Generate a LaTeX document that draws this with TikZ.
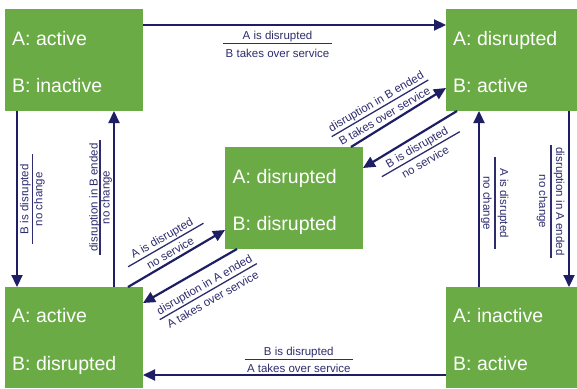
\documentclass[tikz,border=0pt]{standalone}
\usepackage{fontspec}
\setmainfont{Liberation Sans}
\usetikzlibrary{arrows.meta,calc}
\definecolor{boxgreen}{RGB}{106,171,69}
\definecolor{navy}{RGB}{30,30,100}
\definecolor{lblnavy}{RGB}{45,45,110}
\tikzset{
  statebox/.style={fill=boxgreen, draw=none, minimum width=138pt, minimum height=102pt, inner sep=0pt, outer sep=0pt},
  statetext/.style={text=white, font=\fontsize{19.5}{22}\selectfont, anchor=base west, inner sep=0pt},
  trans/.style={draw=navy, line width=2.2pt, -{Triangle[length=12pt,width=11pt]}},
  lbltext/.style={text=lblnavy, font=\fontsize{11.5}{13}\selectfont, anchor=base, inner sep=0pt, transform shape},
  lblrule/.style={draw=lblnavy, line width=1.3pt},
}
% name, x, y, angle, rule width, top offset, bottom offset, top text, bottom text
\newcommand{\duallbl}[9]{%
  \begin{scope}[shift={(#2,#3)}, rotate=#4]
    \node[lbltext] (#1t) at (0pt,#6pt) {#8};
    \node[lbltext] (#1b) at (0pt,-#7pt) {#9};
    \draw[lblrule] ({-0.5*#5pt},0pt) -- ({0.5*#5pt},0pt);
  \end{scope}}
\begin{document}
\begin{tikzpicture}[x=1pt,y=-1pt]
  \useasboundingbox (0,0) rectangle (577,388);
  \fill[white] (0,0) rectangle (577,388);
  % states
  \node[statebox] (tl) at (74,60) {};
  \node[statebox, minimum width=131pt] (tr) at (511.5,60) {};
  \node[statebox] (ctr) at (294,198) {};
  \node[statebox, minimum height=101pt] (bl) at (74,337.5) {};
  \node[statebox, minimum width=131pt, minimum height=101pt] (br) at (511.5,337.5) {};
  % state texts
  \node[statetext] (tlA) at ([xshift=7pt,yshift=-36pt]tl.north west) {A: active};
  \node[statetext] (tlB) at ([xshift=7pt,yshift=-83.7pt]tl.north west) {B: inactive};
  \node[statetext] (trA) at ([xshift=7pt,yshift=-36pt]tr.north west) {A: disrupted};
  \node[statetext] (trB) at ([xshift=7pt,yshift=-83.7pt]tr.north west) {B: active};
  \node[statetext] (ctrA) at ([xshift=7.5pt,yshift=-36pt]ctr.north west) {A: disrupted};
  \node[statetext] (ctrB) at ([xshift=7.5pt,yshift=-83.7pt]ctr.north west) {B: disrupted};
  \node[statetext] (blA) at ([xshift=7pt,yshift=-35pt]bl.north west) {A: active};
  \node[statetext] (blB) at ([xshift=7pt,yshift=-83pt]bl.north west) {B: disrupted};
  \node[statetext] (brA) at ([xshift=7pt,yshift=-35pt]br.north west) {A: inactive};
  \node[statetext] (brB) at ([xshift=7pt,yshift=-83pt]br.north west) {B: active};
  % transitions
  \draw[trans] ([yshift=-16pt]tl.north east) -- ([yshift=-16pt]tr.north west);
  \draw[trans] ([yshift=-88pt]br.north west) -- ([yshift=-88pt]bl.north east);
  \draw[trans] ([xshift=12pt]tl.south west) -- ([xshift=12pt]bl.north west);
  \draw[trans] ([xshift=109pt]bl.north west) -- ([xshift=109pt]tl.south west);
  \draw[trans] ([xshift=33pt]br.north west) -- ([xshift=33pt]tr.south west);
  \draw[trans] ([xshift=123pt]tr.south west) -- ([xshift=123pt]br.north west);
  \draw[trans] ([xshift=-12pt]ctr.north east) -- ([yshift=-79pt]tr.north west);
  \draw[trans] ([xshift=11pt]tr.south west) -- ([yshift=-21pt]ctr.north east);
  \draw[trans] ([xshift=123pt]bl.north west) -- ([yshift=-83pt]ctr.north west);
  \draw[trans] ([xshift=12pt]ctr.south west) -- ([yshift=-16pt]bl.north east);
  % labels
  \duallbl{l1}{277.5}{43.3}{0}{109}{4.3}{14}{A is disrupted}{B takes over service}
  \duallbl{l2}{298.8}{359.3}{0}{108}{3.6}{13.4}{B is disrupted}{A takes over service}
  \duallbl{l3}{32.3}{199.2}{90}{90}{4}{10}{B is disrupted}{no change}
  \duallbl{l4}{100}{197.5}{90}{115}{2.5}{9.5}{disruption in B ended}{no change}
  \duallbl{l5}{495}{203}{-90}{92}{5}{11.7}{A is disrupted}{no change}
  \duallbl{l6}{551}{201.5}{-90}{113}{5}{12}{disruption in A ended}{no change}
  \duallbl{l7}{380}{108.3}{30.4}{112}{4}{13}{disruption in B ended}{B takes over service}
  \duallbl{l8}{420.8}{154.2}{30}{90}{4}{13}{B is disrupted}{no service}
  \duallbl{l9}{165.8}{245}{30}{87}{4}{13}{A is disrupted}{no service}
  \duallbl{l10}{208.3}{291.6}{30}{112}{4}{13}{disruption in A ended}{A takes over service}
\end{tikzpicture}
\end{document}
